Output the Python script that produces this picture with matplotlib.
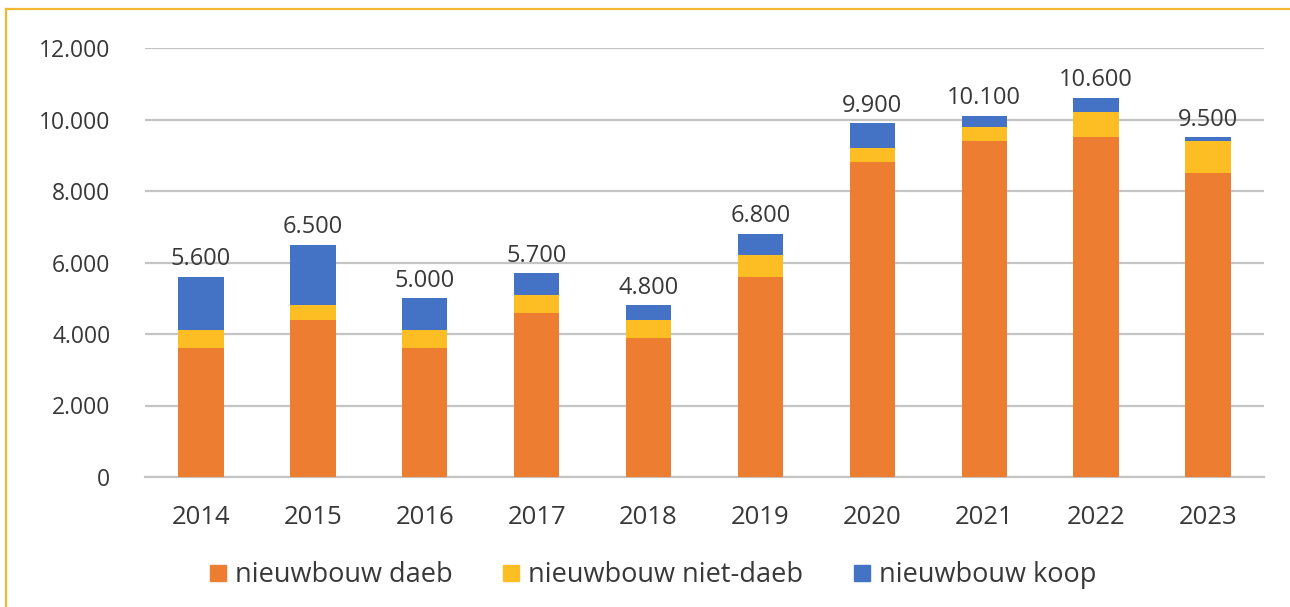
import matplotlib.pyplot as plt
import numpy as np
from matplotlib.lines import Line2D

# data
years = ['2014', '2015', '2016', '2017', '2018', '2019', '2020', '2021', '2022', '2023']
daeb = [3600, 4400, 3600, 4600, 3900, 5600, 8800, 9400, 9500, 8500]
niet_daeb = [500, 400, 500, 500, 500, 600, 400, 400, 700, 900]
koop = [1500, 1700, 900, 600, 400, 600, 700, 300, 400, 100]
totals = ['5.600', '6.500', '5.000', '5.700', '4.800', '6.800', '9.900', '10.100', '10.600', '9.500']
series_names = ['nieuwbouw daeb', 'nieuwbouw niet-daeb', 'nieuwbouw koop']

plt.rcParams['font.family'] = ['Open Sans', 'DejaVu Sans']

colors = ['#ED7D31', '#FDBE24', '#4472C4']
text_col = '#383838'

fig = plt.figure(figsize=(12.9, 6.07), dpi=100)
ax = fig.add_axes([145 / 1290, 1 - 477 / 607, 1119 / 1290, 429 / 607])

x = np.arange(len(years))
w = 0.405
b1 = np.array(daeb)
b2 = b1 + np.array(niet_daeb)
b3 = b2 + np.array(koop)
ax.bar(x, daeb, w, color=colors[0], zorder=3)
ax.bar(x, niet_daeb, w, bottom=b1, color=colors[1], zorder=3)
ax.bar(x, koop, w, bottom=b2, color=colors[2], zorder=3)

# totals above each stack
for xi, top, lab in zip(x, b3, totals):
    ax.annotate(lab, (xi, top), xytext=(0, 4), textcoords='offset points',
                ha='center', va='bottom', fontsize=17, color=text_col, zorder=4)

ax.set_xlim(-0.5, len(years) - 0.5)
ax.set_ylim(0, 12000)
ax.set_yticks(range(0, 12001, 2000))
ax.set_yticklabels(['0', '2.000', '4.000', '6.000', '8.000', '10.000', '12.000'])
ax.set_xticks(x)
ax.set_xticklabels(years)
ax.tick_params(axis='both', length=0, labelcolor=text_col)
ax.tick_params(axis='y', pad=25, labelsize=16.5)
ax.tick_params(axis='x', pad=20, labelsize=18.5)
ax.grid(axis='y', color='#c4c4c4', linewidth=1.6, zorder=0)
for s in ['top', 'right', 'left']:
    ax.spines[s].set_visible(False)
ax.spines['bottom'].set_color('#c4c4c4')
ax.spines['bottom'].set_linewidth(1.6)

handles = [Line2D([], [], marker='s', linestyle='none', markersize=12, markerfacecolor=c,
                  markeredgecolor=c) for c in colors]
fig.legend(handles, series_names, loc='center', bbox_to_anchor=(652 / 1290, 1 - 575 / 607),
           ncol=3, frameon=False, fontsize=19.5, handlelength=0.75, handletextpad=0.25,
           columnspacing=1.8, labelcolor=text_col)

# yellow frame lines at top and left
fig.add_artist(Line2D([6 / 1290, 1], [1 - 9 / 607, 1 - 9 / 607], transform=fig.transFigure,
                      color='#F4B731', linewidth=1.6))
fig.add_artist(Line2D([6 / 1290, 6 / 1290], [0, 1 - 9 / 607], transform=fig.transFigure,
                      color='#F4B731', linewidth=1.6))

fig.savefig('out.png', dpi=100)
